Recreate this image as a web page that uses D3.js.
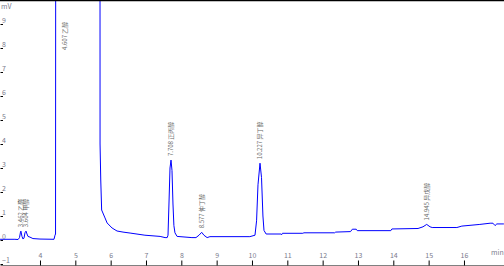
<!DOCTYPE html>
<html>
<head>
<meta charset="utf-8">
<script src="https://cdn.jsdelivr.net/npm/d3@7"></script>
<style>
  body { margin: 0; background: #fff; }
  svg { display: block; }
  text { font-family: "Noto Sans CJK SC", "DejaVu Sans", sans-serif; }
</style>
</head>
<body>
<div id="chart"></div>
<script>
// chromatogram trace (min, mV)
var times = [2.87, 3.29, 3.38, 3.42, 3.448, 3.46, 3.49, 3.52, 3.547, 3.575, 3.604, 3.632, 3.66, 3.717, 3.80, 4.0, 4.396, 4.425, 4.44,
  4.455, 4.47, 5.69, 5.70, 5.72, 5.745, 5.84, 5.90, 6.04, 6.18, 6.35, 6.55, 6.97, 7.40, 7.54,
  7.60, 7.623, 7.65, 7.68, 7.708, 7.736, 7.764, 7.79, 7.82, 7.88, 8.30,
  8.415, 8.50, 8.577, 8.64, 8.73, 8.81, 9.94,
  10.085, 10.13, 10.17, 10.227, 10.27, 10.31, 10.34, 10.40,
  10.82, 10.84, 10.86, 11.44, 11.47, 12.34, 12.37, 12.79, 12.84, 12.95, 12.98, 13.93, 13.96,
  14.70, 14.84, 14.945, 15.04, 15.10, 15.80, 15.94, 16.45, 16.74, 16.82, 16.88, 16.93, 17.13];
var signal = [0.03, 0.03, 0.02, 0.1, 0.33, 0.37, 0.15, 0.04, 0.08, 0.3, 0.37, 0.25, 0.15, 0.12, 0.06, 0.04, 0.03, 0.2, 0.25,
  40, 80, 80, 4.0, 2.5, 1.25, 0.92, 0.71, 0.5, 0.375, 0.33, 0.29, 0.2, 0.15, 0.1,
  0.1, 0.2, 1.5, 3.0, 3.33, 2.9, 1.5, 0.6, 0.3, 0.15, 0.1,
  0.1, 0.2, 0.32, 0.2, 0.1, 0.14, 0.14,
  0.2, 0.8, 2.3, 3.2, 2.6, 1.0, 0.4, 0.25,
  0.25, 0.22, 0.28, 0.28, 0.3, 0.3, 0.33, 0.35, 0.45, 0.45, 0.39, 0.39, 0.46,
  0.48, 0.55, 0.65, 0.55, 0.52, 0.52, 0.58, 0.65, 0.7, 0.7, 0.6, 0.67, 0.67];

// peak annotations
var peakTimes = [3.462, 3.604, 4.607, 7.708, 8.577, 10.227, 14.945];
var peakHeights = [0.37, 0.37, 7.75, 3.33, 0.32, 3.2, 0.65];
var peakLabels = ["3.462 乙醛", "3.604 甲醇", "4.607 乙醇", "7.708 正丙醇", "8.577 仲丁醇", "10.227 异丁醇", "14.945 异戊醇"];

var xTicks = [4, 5, 6, 7, 8, 9, 10, 11, 12, 13, 14, 15, 16];
var yTicks = [-1, 0, 1, 2, 3, 4, 5, 6, 7, 8, 9];

var svgWidth = 504;
var svgHeight = 266;

var svg = d3.select("#chart")
  .append("svg")
  .attr("width", svgWidth)
  .attr("height", svgHeight);

var xScale = d3.scaleLinear()
  .domain([2.868, 17.133])
  .range([0, svgWidth]);

var yScale = d3.scaleLinear()
  .domain([-1.083, 10])
  .range([266, 0]);

// trace
var points = times.map(function(t, i) { return [t, signal[i]]; });

var line = d3.line()
  .x(d => xScale(d[0]))
  .y(d => yScale(d[1]));

svg.append("path")
  .datum(points)
  .attr("fill", "none")
  .attr("stroke", "#0000ff")
  .attr("stroke-width", 1)
  .attr("d", line);

// bottom axis with ticks pointing up
var xAxis = svg.append("g")
  .attr("transform", "translate(0, 265.5)")
  .call(d3.axisTop(xScale).tickValues(xTicks).tickSize(5).tickSizeOuter(0).tickPadding(3).tickFormat(d3.format("d")));

xAxis.select(".domain").attr("stroke", "#000");
xAxis.selectAll("line").attr("stroke", "#000");
xAxis.selectAll("text")
  .attr("fill", "#7a7a8c")
  .style("font-size", "7px");

// left axis, ticks inside
var yAxis = svg.append("g")
  .attr("transform", "translate(0.5, 0)")
  .call(d3.axisRight(yScale).tickValues(yTicks).tickSize(2.5).tickSizeOuter(0).tickFormat(d3.format("d")));

yAxis.select(".domain").remove();
yAxis.selectAll("line").attr("stroke", "#000");
yAxis.selectAll("text")
  .attr("x", 1.5)
  .attr("y", -1.5)
  .attr("dy", 0)
  .attr("fill", "#7a7a8c")
  .style("font-size", "7px");

// units
svg.append("text")
  .attr("x", 1)
  .attr("y", 9)
  .attr("fill", "#7a7a8c")
  .style("font-size", "7px")
  .text("mV");

svg.append("text")
  .attr("x", 491)
  .attr("y", 255)
  .attr("fill", "#7a7a8c")
  .style("font-size", "7px")
  .text("min");

// peak labels, rotated (ethanol label sits right of the off-scale peak)
svg.selectAll(".peak-label")
  .data(peakTimes)
  .enter()
  .append("text")
  .classed("peak-label", true)
  .attr("transform", function(d, i) {
    var x = xScale(d) + (i === 2 ? 6 : 2);
    var y = yScale(peakHeights[i]) - 4;
    return "translate(" + x + "," + y + ") rotate(-90)";
  })
  .attr("fill", "#666")
  .style("font-size", "6px")
  .text((d, i) => peakLabels[i]);

// top frame line
svg.append("line")
  .attr("x1", 0)
  .attr("x2", svgWidth)
  .attr("y1", 0.5)
  .attr("y2", 0.5)
  .attr("stroke", "#000")
  .attr("stroke-width", 1.5);
</script>
</body>
</html>
